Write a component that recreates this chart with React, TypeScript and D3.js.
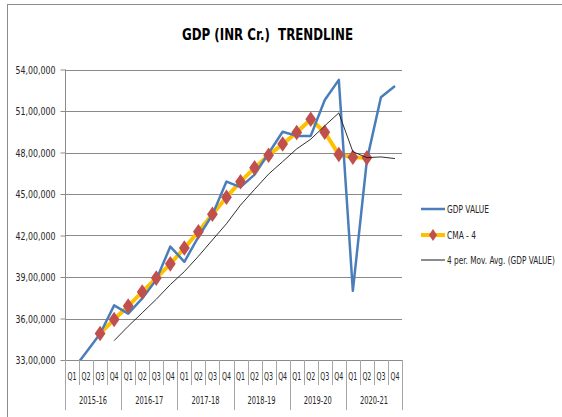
import { useEffect, useRef } from 'react'
import * as d3 from 'd3'

// quarters and fiscal years on the two-level x axis
const quarters = ['Q1', 'Q2', 'Q3', 'Q4']
const years = ['2015-16', '2016-17', '2017-18', '2018-19', '2019-20', '2020-21']

// GDP value, INR crore
const gdpValue = [
  3220000, 3355000, 3490000, 3695000, 3635000, 3745000, 3880000, 4120000,
  4010000, 4190000, 4350000, 4590000, 4550000, 4640000, 4795000, 4950000,
  4920000, 4920000, 5180000, 5325000, 3800000, 4745000, 5200000, 5280000,
]

// centered moving average, Q3 2015-16 .. Q2 2020-21
const cma4 = [
  3492000, 3593000, 3690000, 3792000, 3892000, 3995000, 4109000, 4227000,
  4353000, 4477000, 4589000, 4689000, 4780000, 4861000, 4945000, 5040000,
  4946000, 4785000, 4766000, 4762000,
]
const cmaStart = 2

// 4 period moving average trendline, Q4 2015-16 .. Q4 2020-21
const movAvg = [
  3440000, 3544000, 3641000, 3739000, 3845000, 3939000, 4050000, 4168000,
  4285000, 4420000, 4533000, 4644000, 4734000, 4826000, 4896000, 4993000,
  5086000, 4806000, 4763000, 4768000, 4756000,
]
const maStart = 3

const yTicks = [3300000, 3600000, 3900000, 4200000, 4500000, 4800000, 5100000, 5400000]

const legendLabels = ['GDP VALUE', 'CMA - 4', '4 per. Mov. Avg. (GDP VALUE)']

const FONT = "'DejaVu Sans Condensed', 'Liberation Sans', sans-serif"

// indian digit grouping: 54,00,000
function fmtIN(v) {
  const s = String(Math.round(v))
  if (s.length <= 3) return s
  const last = s.slice(-3)
  let rest = s.slice(0, -3)
  const parts = []
  while (rest.length > 2) {
    parts.unshift(rest.slice(-2))
    rest = rest.slice(0, -2)
  }
  if (rest) parts.unshift(rest)
  return parts.join(',') + ',' + last
}

export default function App() {
  const svgRef = useRef(null)

  useEffect(() => {
    const width = 562
    const height = 417
    const svg = d3.select(svgRef.current)
    svg.selectAll('*').remove()

    const left = 65, right = 402, top = 69.5, bottom = 360

    const labels = []
    years.forEach(y => quarters.forEach(q => labels.push(y + ' ' + q)))

    const x = d3.scaleBand().domain(labels).range([left, right]).padding(0)
    const cx = i => x(labels[i]) + x.bandwidth() / 2
    const y = d3.scaleLinear().domain([3300000, 5400000]).range([bottom, top])

    // frame
    svg.append('line').attr('x1', 7.5).attr('x2', 7.5).attr('y1', 4).attr('y2', height)
      .attr('stroke', '#8c8c8c')
    svg.append('line').attr('x1', 7).attr('x2', width).attr('y1', 4.5).attr('y2', 4.5)
      .attr('stroke', '#8c8c8c')

    // title
    svg.append('text')
      .attr('x', 182).attr('y', 40)
      .attr('textLength', 171).attr('lengthAdjust', 'spacingAndGlyphs')
      .style('font-family', FONT)
      .style('font-size', '16px')
      .style('font-weight', 'bold')
      .style('white-space', 'pre')
      .attr('fill', '#000')
      .text('GDP (INR Cr.)  TRENDLINE')

    // gridlines
    svg.append('g').selectAll('line')
      .data(yTicks)
      .enter().append('line')
      .attr('x1', left).attr('x2', right)
      .attr('y1', d => Math.round(y(d)) + 0.5).attr('y2', d => Math.round(y(d)) + 0.5)
      .attr('stroke', '#8a8a8a')

    // y axis
    const yAxis = svg.append('g')
      .attr('transform', `translate(${left + 0.5},0)`)
      .call(d3.axisLeft(y).tickValues(yTicks).tickFormat(fmtIN).tickSize(5).tickPadding(5))
    yAxis.selectAll('path, line').attr('stroke', '#8a8a8a')
    yAxis.select('.domain').attr('d', `M0,${top}V${bottom}`)
    yAxis.selectAll('text')
      .attr('textLength', 40).attr('lengthAdjust', 'spacingAndGlyphs')
      .style('font-family', FONT).style('font-size', '11px').attr('fill', '#262626')

    // x axis: line plus quarter / year separators
    const xa = svg.append('g')
    xa.append('line').attr('x1', left).attr('x2', right)
      .attr('y1', bottom + 0.5).attr('y2', bottom + 0.5).attr('stroke', '#8a8a8a')
    for (let i = 0; i <= labels.length; i++) {
      const xx = i < labels.length ? x(labels[i]) : right
      const isYear = i % 4 === 0
      xa.append('line')
        .attr('x1', Math.round(xx) + 0.5).attr('x2', Math.round(xx) + 0.5)
        .attr('y1', bottom).attr('y2', isYear ? 410 : 385)
        .attr('stroke', '#a6a6a6')
    }
    xa.selectAll('.q').data(labels).enter().append('text')
      .attr('x', (d, i) => cx(i) - 4.5).attr('y', 380)
      .attr('textLength', 9).attr('lengthAdjust', 'spacingAndGlyphs')
      .style('font-family', FONT).style('font-size', '10px').attr('fill', '#262626')
      .text((d, i) => quarters[i % 4])
    xa.selectAll('.yr').data(years).enter().append('text')
      .attr('x', (d, i) => x(labels[i * 4]) + x.bandwidth() * 2 - 14).attr('y', 404)
      .attr('textLength', 28).attr('lengthAdjust', 'spacingAndGlyphs')
      .style('font-family', FONT).style('font-size', '10px').attr('fill', '#262626')
      .text(d => d)

    // clip to plot area
    svg.append('clipPath').attr('id', 'plotclip')
      .append('rect').attr('x', left).attr('y', top - 10).attr('width', right - left).attr('height', bottom - top + 10)

    const plot = svg.append('g').attr('clip-path', 'url(#plotclip)')

    const line = d3.line().x(d => cx(d[0])).y(d => y(d[1]))

    // CMA - 4
    const cmaPts = cma4.map((v, i) => [i + cmaStart, v])
    plot.append('path').datum(cmaPts).attr('d', line)
      .attr('fill', 'none').attr('stroke', '#ffc000').attr('stroke-width', 4)
      .attr('stroke-linejoin', 'round')

    // GDP value
    plot.append('path').datum(gdpValue.map((v, i) => [i, v])).attr('d', line)
      .attr('fill', 'none').attr('stroke', '#4a7ebb').attr('stroke-width', 2.5)
      .attr('stroke-linejoin', 'round')

    // diamonds
    const diamond = d3.symbol().type(d3.symbolDiamond).size(70)
    plot.selectAll('.dm').data(cmaPts).enter().append('path')
      .attr('d', diamond)
      .attr('transform', d => `translate(${cx(d[0])},${y(d[1])}) scale(1.2,1)`)
      .attr('fill', '#c0504d')

    // moving average trendline
    plot.append('path').datum(movAvg.map((v, i) => [i + maStart, v])).attr('d', line)
      .attr('fill', 'none').attr('stroke', '#1a1a1a').attr('stroke-width', 0.9)

    // legend
    const lg = svg.append('g')
    const rowY = [209, 235, 260]
    const rowW = [42, 29, 108]
    lg.append('line').attr('x1', 421).attr('x2', 445).attr('y1', rowY[0]).attr('y2', rowY[0])
      .attr('stroke', '#4a7ebb').attr('stroke-width', 2.5)
    lg.append('line').attr('x1', 421).attr('x2', 445).attr('y1', rowY[1]).attr('y2', rowY[1])
      .attr('stroke', '#ffc000').attr('stroke-width', 4)
    lg.append('path').attr('d', d3.symbol().type(d3.symbolDiamond).size(40))
      .attr('transform', `translate(433,${rowY[1]}) scale(1.2,1)`).attr('fill', '#c0504d')
    lg.append('line').attr('x1', 421).attr('x2', 445).attr('y1', rowY[2]).attr('y2', rowY[2])
      .attr('stroke', '#1a1a1a').attr('stroke-width', 1)

    // squeeze each label to its width with a transform, so the box stays true
    legendLabels.forEach((label, i) => {
      const g = lg.append('g')
      const t = g.append('text')
        .attr('x', 0).attr('y', 0).attr('dy', '0.35em')
        .style('font-family', FONT).style('font-size', '10px').attr('fill', '#262626')
        .text(label)
      const w = t.node().getComputedTextLength() || rowW[i]
      g.attr('transform', `translate(447,${rowY[i]}) scale(${rowW[i] / w},1)`)
    })
  }, [])

  return (
    <svg ref={svgRef} width={562} height={417}
      style={{ position: 'absolute', left: 0, top: 0, background: '#fff' }} />
  )
}
